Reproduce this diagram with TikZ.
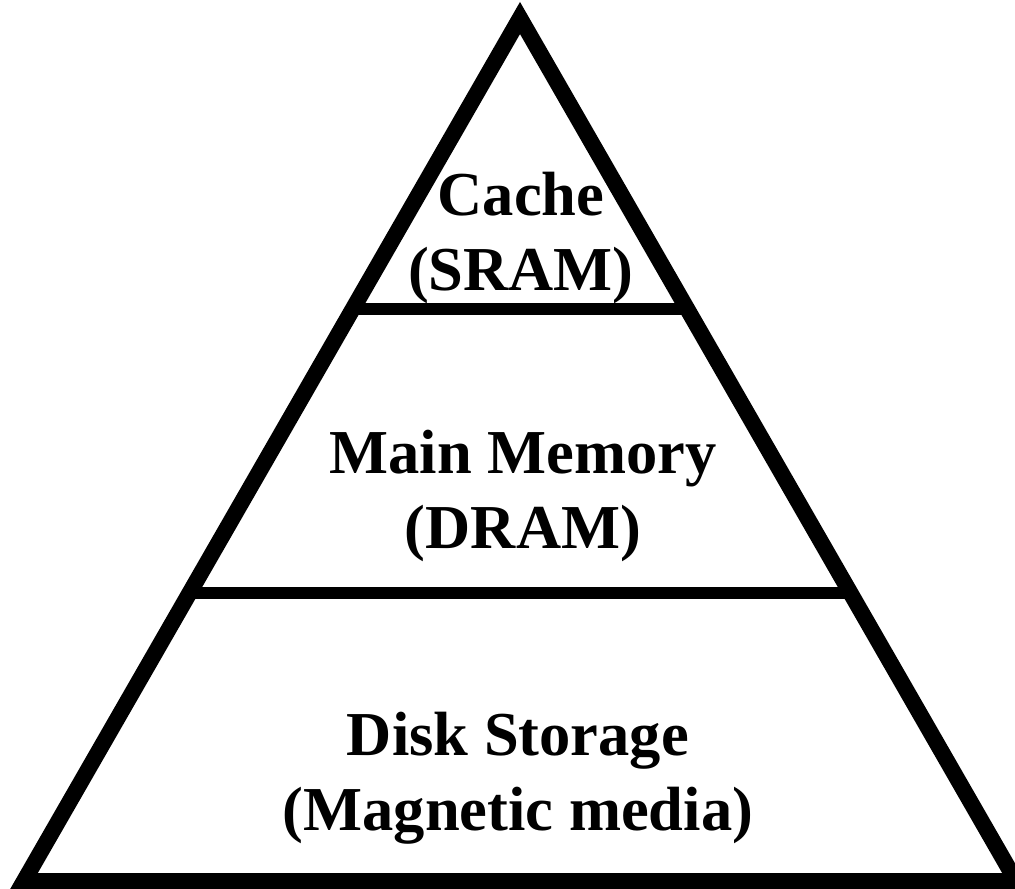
\documentclass[tikz,border=0pt]{standalone}
\usepackage{fontspec}
\setmainfont{Liberation Serif}
\usetikzlibrary{calc}

\tikzset{
    level/.style={font=\bfseries\fontsize{62.5}{75}\selectfont, align=center, anchor=base, inner sep=0pt},
    rim/.style={line width=16pt, line join=miter},
    shelf/.style={line width=12.6pt}
}

\begin{document}
\begin{tikzpicture}[x=1pt,y=-1pt]
\useasboundingbox (0,0) rectangle (1015,889);
\clip (0,0) rectangle (1015,889);

\coordinate (apex) at (520,18);
\coordinate (baseL) at (24,881);
\coordinate (baseR) at (1016,881);
\draw[rim] (baseL) -- (apex) -- (baseR) -- cycle;

\foreach \name \f in {upper/0.663, lower/0.3337}{
    \coordinate (\name L) at ($(baseL)!\f!(apex)$);
    \coordinate (\name R) at ($(baseR)!\f!(apex)$);
    \draw[shelf] (\name L) -- (\name R);
}

\node[level] (cache) at (521,290) {Cache\\(SRAM)};
\node[level] (dram) at (523,548) {Main Memory\\(DRAM)};
\node[level] (disk) at (518,830) {Disk Storage\\(Magnetic media)};

\end{tikzpicture}
\end{document}
